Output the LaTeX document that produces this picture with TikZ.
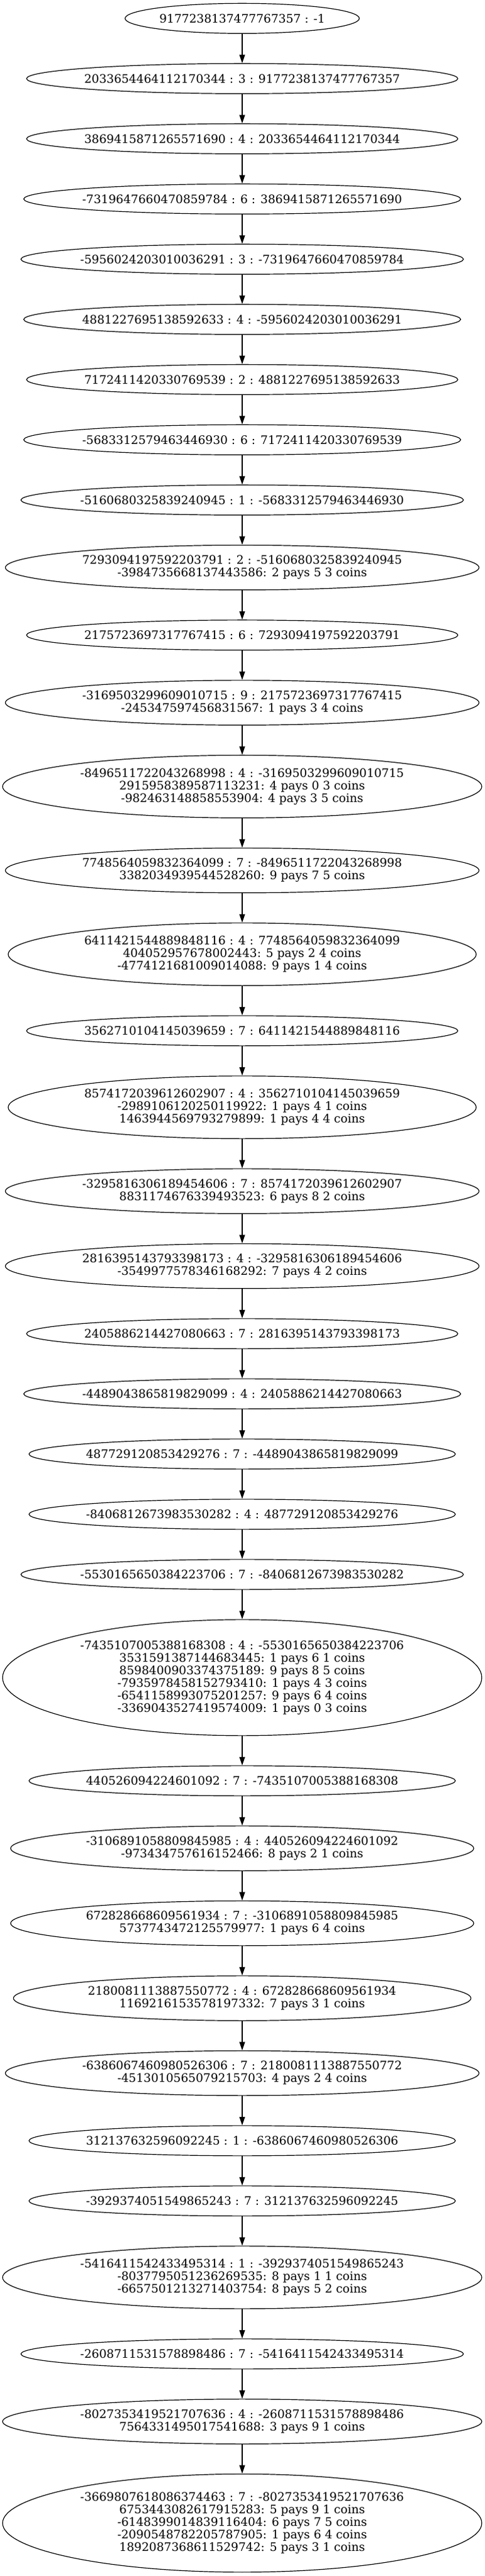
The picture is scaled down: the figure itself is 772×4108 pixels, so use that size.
\documentclass[tikz,border=0pt]{standalone}
\usepackage{fontspec}
\setmainfont{DejaVu Serif}
\usetikzlibrary{shapes.geometric}
\usetikzlibrary{arrows.meta}
\newcommand{\stcx}{386}
\newcommand{\stsepx}{9pt}
\newcommand{\stlw}{0.9pt}
\tikzset{
  stnode/.style={ellipse, draw, line width=\stlw, align=center,
    inner xsep=\stsepx, inner ysep=0pt},
  stone/.style={stnode, inner xsep=-6.5pt, minimum height=36pt},
  sttwo/.style={stnode, minimum height=53.6pt},
  stthree/.style={stnode, minimum height=75pt},
  stfive/.style={stnode, minimum height=117.4pt},
  stsix/.style={stnode, minimum height=138.75pt},
  stedge/.style={-{Triangle[length=10pt,width=6.7pt]}, line width=\stlw}
}

\begin{document}
\begin{tikzpicture}[x=0.75pt,y=-0.75pt,font=\fontsize{14pt}{15pt}\selectfont]
    \useasboundingbox (0,0) rectangle (772,4108);

    \node (n1) at (\stcx, 29.33) [stone, minimum width=280pt]
      {9177238137477767357 : -1};
    \node (n2) at (\stcx, 125.33) [stone]
      {2033654464112170344 : 3 : 9177238137477767357};
    \node (n3) at (\stcx, 221.33) [stone]
      {3869415871265571690 : 4 : 2033654464112170344};
    \node (n4) at (\stcx, 317.33) [stone]
      {-7319647660470859784 : 6 : 3869415871265571690};
    \node (n5) at (\stcx, 413.33) [stone]
      {-5956024203010036291 : 3 : -7319647660470859784};
    \node (n6) at (\stcx, 509.33) [stone]
      {4881227695138592633 : 4 : -5956024203010036291};
    \node (n7) at (\stcx, 605.33) [stone]
      {7172411420330769539 : 2 : 4881227695138592633};
    \node (n8) at (\stcx, 701.33) [stone]
      {-5683312579463446930 : 6 : 7172411420330769539};
    \node (n9) at (\stcx, 797.33) [stone]
      {-5160680325839240945 : 1 : -5683312579463446930};
    \node (n10) at (\stcx, 905.08) [sttwo]
      {7293094197592203791 : 2 : -5160680325839240945\\
       -3984735668137443586: 2 pays 5 3 coins};
    \node (n11) at (\stcx, 1012.83) [stone]
      {2175723697317767415 : 6 : 7293094197592203791};
    \node (n12) at (\stcx, 1120.58) [sttwo]
      {-3169503299609010715 : 9 : 2175723697317767415\\
       -245347597456831567: 1 pays 3 4 coins};
    \node (n13) at (\stcx, 1254.33) [stthree]
      {-8496511722043268998 : 4 : -3169503299609010715\\
       2915958389587113231: 4 pays 0 3 coins\\
       -982463148858553904: 4 pays 3 5 coins};
    \node (n14) at (\stcx, 1388.08) [sttwo]
      {7748564059832364099 : 7 : -8496511722043268998\\
       3382034939544528260: 9 pays 7 5 coins};
    \node (n15) at (\stcx, 1521.83) [stthree]
      {6411421544889848116 : 4 : 7748564059832364099\\
       404052957678002443: 5 pays 2 4 coins\\
       -4774121681009014088: 9 pays 1 4 coins};
    \node (n16) at (\stcx, 1643.83) [stone]
      {3562710104145039659 : 7 : 6411421544889848116};
    \node (n17) at (\stcx, 1765.83) [stthree]
      {8574172039612602907 : 4 : 3562710104145039659\\
       -2989106120250119922: 1 pays 4 1 coins\\
       1463944569793279899: 1 pays 4 4 coins};
    \node (n18) at (\stcx, 1899.58) [sttwo]
      {-3295816306189454606 : 7 : 8574172039612602907\\
       8831174676339493523: 6 pays 8 2 coins};
    \node (n19) at (\stcx, 2019.08) [sttwo]
      {2816395143793398173 : 4 : -3295816306189454606\\
       -3549977578346168292: 7 pays 4 2 coins};
    \node (n20) at (\stcx, 2126.83) [stone]
      {2405886214427080663 : 7 : 2816395143793398173};
    \node (n21) at (\stcx, 2222.83) [stone]
      {-4489043865819829099 : 4 : 2405886214427080663};
    \node (n22) at (\stcx, 2318.83) [stone]
      {487729120853429276 : 7 : -4489043865819829099};
    \node (n23) at (\stcx, 2414.83) [stone]
      {-8406812673983530282 : 4 : 487729120853429276};
    \node (n24) at (\stcx, 2510.83) [stone]
      {-5530165650384223706 : 7 : -8406812673983530282};
    \node (n25) at (\stcx, 2675.33) [stsix]
      {-7435107005388168308 : 4 : -5530165650384223706\\
       3531591387144683445: 1 pays 6 1 coins\\
       8598400903374375189: 9 pays 8 5 coins\\
       -7935978458152793410: 1 pays 4 3 coins\\
       -6541158993075201257: 9 pays 6 4 coins\\
       -3369043527419574009: 1 pays 0 3 coins};
    \node (n26) at (\stcx, 2839.83) [stone]
      {440526094224601092 : 7 : -7435107005388168308};
    \node (n27) at (\stcx, 2947.58) [sttwo]
      {-3106891058809845985 : 4 : 440526094224601092\\
       -973434757616152466: 8 pays 2 1 coins};
    \node (n28) at (\stcx, 3067.08) [sttwo]
      {672828668609561934 : 7 : -3106891058809845985\\
       5737743472125579977: 1 pays 6 4 coins};
    \node (n29) at (\stcx, 3186.58) [sttwo]
      {2180081113887550772 : 4 : 672828668609561934\\
       1169216153578197332: 7 pays 3 1 coins};
    \node (n30) at (\stcx, 3306.08) [sttwo]
      {-6386067460980526306 : 7 : 2180081113887550772\\
       -4513010565079215703: 4 pays 2 4 coins};
    \node (n31) at (\stcx, 3413.83) [stone]
      {312137632596092245 : 1 : -6386067460980526306};
    \node (n32) at (\stcx, 3509.83) [stone]
      {-3929374051549865243 : 7 : 312137632596092245};
    \node (n33) at (\stcx, 3631.83) [stthree]
      {-5416411542433495314 : 1 : -3929374051549865243\\
       -8037795051236269535: 8 pays 1 1 coins\\
       -6657501213271403754: 8 pays 5 2 coins};
    \node (n34) at (\stcx, 3753.83) [stone]
      {-2608711531578898486 : 7 : -5416411542433495314};
    \node (n35) at (\stcx, 3861.58) [sttwo]
      {-8027353419521707636 : 4 : -2608711531578898486\\
       7564331495017541688: 3 pays 9 1 coins};
    \node (n36) at (\stcx, 4023.58) [stfive]
      {-3669807618086374463 : 7 : -8027353419521707636\\
       6753443082617915283: 5 pays 9 1 coins\\
       -6148399014839116404: 6 pays 7 5 coins\\
       -2090548782205787905: 1 pays 6 4 coins\\
       1892087368611529742: 5 pays 3 1 coins};

    \draw[stedge] (n1) -- (n2);
    \draw[stedge] (n2) -- (n3);
    \draw[stedge] (n3) -- (n4);
    \draw[stedge] (n4) -- (n5);
    \draw[stedge] (n5) -- (n6);
    \draw[stedge] (n6) -- (n7);
    \draw[stedge] (n7) -- (n8);
    \draw[stedge] (n8) -- (n9);
    \draw[stedge] (n9) -- (n10);
    \draw[stedge] (n10) -- (n11);
    \draw[stedge] (n11) -- (n12);
    \draw[stedge] (n12) -- (n13);
    \draw[stedge] (n13) -- (n14);
    \draw[stedge] (n14) -- (n15);
    \draw[stedge] (n15) -- (n16);
    \draw[stedge] (n16) -- (n17);
    \draw[stedge] (n17) -- (n18);
    \draw[stedge] (n18) -- (n19);
    \draw[stedge] (n19) -- (n20);
    \draw[stedge] (n20) -- (n21);
    \draw[stedge] (n21) -- (n22);
    \draw[stedge] (n22) -- (n23);
    \draw[stedge] (n23) -- (n24);
    \draw[stedge] (n24) -- (n25);
    \draw[stedge] (n25) -- (n26);
    \draw[stedge] (n26) -- (n27);
    \draw[stedge] (n27) -- (n28);
    \draw[stedge] (n28) -- (n29);
    \draw[stedge] (n29) -- (n30);
    \draw[stedge] (n30) -- (n31);
    \draw[stedge] (n31) -- (n32);
    \draw[stedge] (n32) -- (n33);
    \draw[stedge] (n33) -- (n34);
    \draw[stedge] (n34) -- (n35);
    \draw[stedge] (n35) -- (n36);
\end{tikzpicture}
\end{document}
